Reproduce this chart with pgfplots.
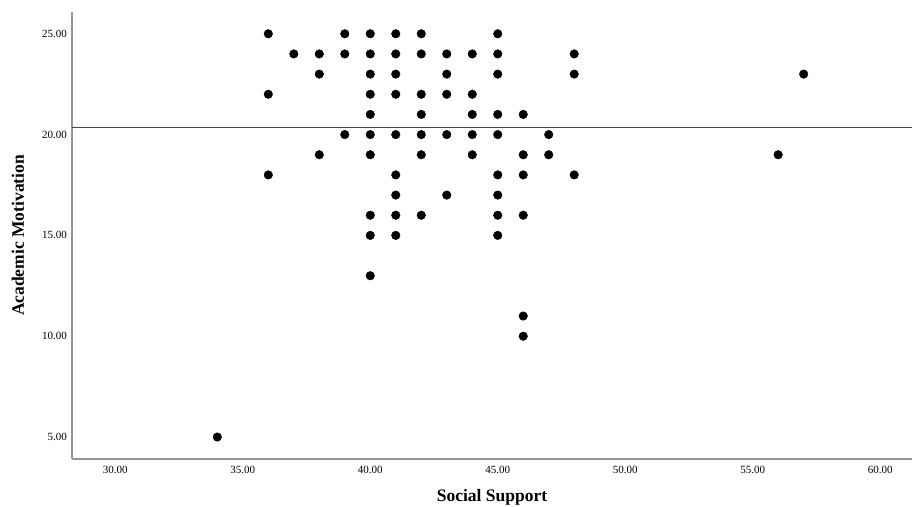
\documentclass[border=0pt]{standalone}
\usepackage{pgfplots}
\pgfplotsset{compat=1.18}
\usepackage{fontspec}
\setmainfont{Liberation Serif}
\definecolor{axisgray}{RGB}{150,150,150}
\definecolor{fitgray}{RGB}{70,70,70}
\begin{document}
\begin{tikzpicture}
\path[use as bounding box] (-72pt,-47pt) rectangle (840pt,459pt);
\begin{axis}[
  at={(0pt,0pt)}, anchor=south west,
  scale only axis, width=840pt, height=447pt,
  xmin=28.3, xmax=61.25, ymin=3.91, ymax=26.08,
  axis x line*=bottom, axis y line*=left,
  axis line style={axisgray, line width=1.2pt, -},
  major tick length=0pt,
  xtick={30,35,40,45,50,55,60},
  ytick={5,10,15,20,25},
  /pgf/number format/assume math mode=true,
  /pgf/number format/.cd, fixed, fixed zerofill, precision=2, /pgfplots/.cd,
  tick label style={font=\fontsize{11}{12}\selectfont},
  xticklabel style={anchor=center, yshift=-11pt},
  yticklabel style={anchor=east, inner sep=0pt, xshift=-5pt},
  xlabel={Social Support},
  ylabel={Academic Motivation},
  label style={font=\fontsize{17.5}{19}\selectfont\bfseries},
  xlabel style={at={(axis description cs:0.5,-0.085)}, anchor=center},
  ylabel style={at={(axis description cs:-0.0643,0.5)}, anchor=center},
  clip=false,
]
\addplot[fitgray, line width=1.2pt] coordinates {(28.3,20.36) (61.25,20.36)};
\addplot[only marks, mark=*, mark size=4.3pt, black] coordinates {
(36,25) (39,25) (40,25) (41,25) (42,25) (45,25)
(37,24) (38,24) (39,24) (40,24) (41,24) (42,24) (43,24) (44,24) (45,24) (48,24)
(38,23) (40,23) (41,23) (43,23) (45,23) (48,23) (57,23)
(36,22) (40,22) (41,22) (42,22) (43,22) (44,22)
(40,21) (42,21) (44,21) (45,21) (46,21)
(39,20) (40,20) (41,20) (42,20) (43,20) (44,20) (45,20) (47,20)
(38,19) (40,19) (42,19) (44,19) (46,19) (47,19) (56,19)
(36,18) (41,18) (45,18) (46,18) (48,18)
(41,17) (43,17) (45,17)
(40,16) (41,16) (42,16) (45,16) (46,16)
(40,15) (41,15) (45,15)
(40,13) (46,11) (46,10) (34,5)
};
\end{axis}
\end{tikzpicture}
\end{document}
